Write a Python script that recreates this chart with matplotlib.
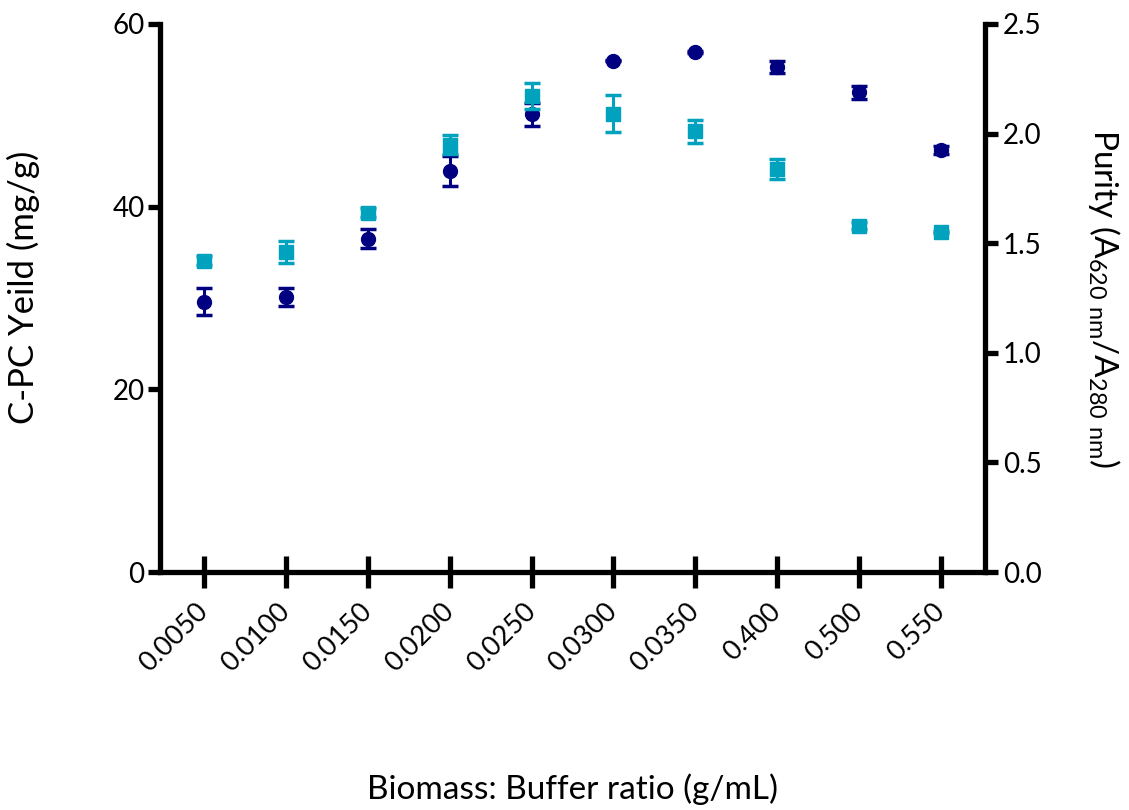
import numpy as np
import matplotlib
matplotlib.use("Agg")
import matplotlib.pyplot as plt

plt.rcParams["font.family"] = ["Lato", "DejaVu Sans"]

ratios = ["0.0050", "0.0100", "0.0150", "0.0200", "0.0250",
          "0.0300", "0.0350", "0.400", "0.500", "0.550"]
yield_mg = [29.6, 30.1, 36.5, 43.9, 50.1, 56.0, 56.9, 55.3, 52.5, 46.2]
yield_err = [1.5, 1.0, 1.0, 1.6, 1.3, 0.1, 0.1, 0.7, 0.7, 0.4]
purity = [1.42, 1.46, 1.64, 1.95, 2.17, 2.09, 2.01, 1.84, 1.58, 1.55]
purity_err = [0.02, 0.05, 0.02, 0.045, 0.06, 0.085, 0.053, 0.045, 0.015, 0.005]

NAVY = "#000080"
CYAN = "#00A2BD"
SPINE_W = 3.8

fig = plt.figure(figsize=(11.29, 8.10), dpi=100)
ax = fig.add_axes([0.1417, 0.2938, 0.7308, 0.6766])
ax2 = ax.twinx()

x = np.arange(len(ratios))

ax.errorbar(x, yield_mg, yerr=yield_err, fmt="o", color=NAVY, ms=10,
            capsize=5.5, capthick=2.5, elinewidth=2.2, zorder=3)
ax2.errorbar(x, purity, yerr=purity_err, fmt="s", color=CYAN, ms=9.5,
             capsize=5.5, capthick=2.5, elinewidth=2.2, zorder=3)

ax.set_xlim(-0.54, 9.54)
ax.set_ylim(0, 60)
ax2.set_ylim(0, 2.5)
ax.set_yticks([0, 20, 40, 60])
ax2.set_yticks([0, 0.5, 1.0, 1.5, 2.0, 2.5])
ax2.set_yticklabels(["0.0", "0.5", "1.0", "1.5", "2.0", "2.5"])
ax.set_xticks(x)
ax.set_xticklabels(ratios, rotation=45, ha="right", va="center",
                   rotation_mode="anchor")

for a in (ax, ax2):
    a.spines["top"].set_visible(False)
    for s in a.spines.values():
        s.set_linewidth(SPINE_W)
ax.spines["right"].set_visible(False)
ax2.spines["left"].set_visible(False)
ax2.spines["bottom"].set_visible(False)

ax.tick_params(axis="x", direction="inout", length=23, width=SPINE_W,
               labelsize=19.5, pad=14)
ax.tick_params(axis="y", direction="out", length=9, width=SPINE_W,
               labelsize=20, pad=2)
ax2.tick_params(axis="y", direction="out", length=9, width=SPINE_W,
                labelsize=20, pad=4)

ax.set_xlabel("Biomass: Buffer ratio (g/mL)", fontsize=24, labelpad=70)
ax.set_ylabel("C-PC Yeild (mg/g)", fontsize=25)
ax.yaxis.set_label_coords(-0.145, 0.52)
ax2.set_ylabel(r"Purity (A$_{\mathregular{620\ nm}}$/A$_{\mathregular{280\ nm}}$)",
               fontsize=24, rotation=-90, labelpad=58)

fig.savefig("out.png", dpi=100)
